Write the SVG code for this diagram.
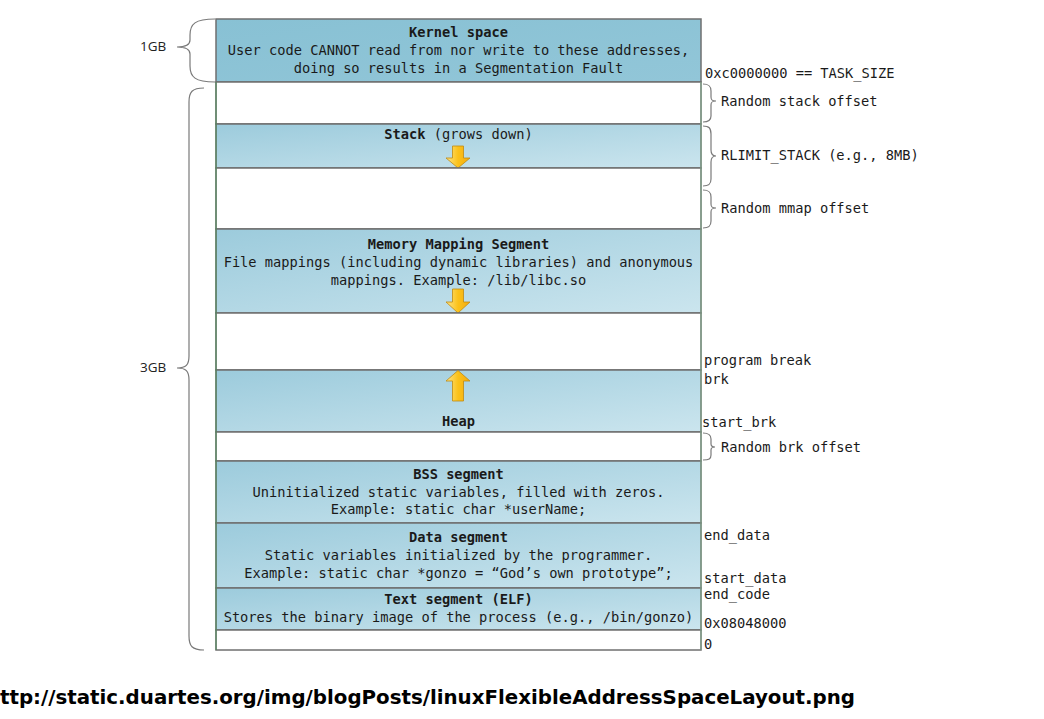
<svg xmlns="http://www.w3.org/2000/svg" width="1044" height="719" viewBox="0 0 1044 719">
  <defs>
    <linearGradient id="seg" x1="0" y1="0" x2="1" y2="1">
      <stop offset="0" stop-color="#9ccbdc"/>
      <stop offset="1" stop-color="#cbe5ee"/>
    </linearGradient>
    <linearGradient id="kern" x1="0" y1="0" x2="1" y2="1">
      <stop offset="0" stop-color="#88c1d4"/>
      <stop offset="1" stop-color="#92c6d8"/>
    </linearGradient>
    <linearGradient id="arrowFill" x1="0" y1="0" x2="1" y2="0">
      <stop offset="0" stop-color="#fde58a"/>
      <stop offset="0.5" stop-color="#fbc21a"/>
      <stop offset="1" stop-color="#f4ab10"/>
    </linearGradient>
    <style>
      .seg { fill: url(#seg); stroke: #6f6f6f; stroke-width: 1.5; }
      .gap { fill: #ffffff; stroke: #6f6f6f; stroke-width: 1.5; }
      .t { font-family: "DejaVu Sans Mono", "Liberation Mono", monospace; font-size: 13.7px; fill: #1a1a1a; }
      .c { text-anchor: middle; }
      .b { font-weight: bold; }
      .gb { font-family: "Open Sans", "Liberation Sans", sans-serif; font-size: 13.5px; fill: #222; }
      .brace { fill: none; stroke: #7a7a7a; stroke-width: 1.2; }
      .arrow { fill: url(#arrowFill); stroke: #c08a10; stroke-width: 0.8; }
      .url { font-family: "DejaVu Sans", "Liberation Sans", sans-serif; font-weight: bold; font-size: 20px; fill: #000; }
    </style>
  </defs>

  <!-- memory segments, top (high addresses) to bottom -->
  <g id="kernel">
    <rect x="216" y="19" width="485" height="63" fill="url(#kern)" stroke="#6f6f6f" stroke-width="1.5"/>
    <text class="t c b" x="458.5" y="37">Kernel space</text>
    <text class="t c" x="458.5" y="55">User code CANNOT read from nor write to these addresses,</text>
    <text class="t c" x="458.5" y="73">doing so results in a Segmentation Fault</text>
  </g>
  <g id="gap-stack">
    <rect class="gap" x="216" y="82" width="485" height="42"/>
  </g>
  <g id="stack">
    <rect class="seg" x="216" y="124" width="485" height="44"/>
    <text class="t c" x="458.5" y="139"><tspan class="b">Stack</tspan> (grows down)</text>
    <path class="arrow" d="M452.5,146 H463.5 V158 H470 L458,168 L446,158 H452.5 Z"/>
  </g>
  <g id="gap-mmap">
    <rect class="gap" x="216" y="168" width="485" height="61"/>
  </g>
  <g id="mmap">
    <rect class="seg" x="216" y="229" width="485" height="84"/>
    <text class="t c b" x="458.5" y="249">Memory Mapping Segment</text>
    <text class="t c" x="458.5" y="267">File mappings (including dynamic libraries) and anonymous</text>
    <text class="t c" x="458.5" y="285">mappings. Example: /lib/libc.so</text>
    <path class="arrow" d="M452.5,289 H463.5 V302 H470 L458,313 L446,302 H452.5 Z"/>
  </g>
  <g id="gap-heap">
    <rect class="gap" x="216" y="313" width="485" height="57"/>
  </g>
  <g id="heap">
    <rect class="seg" x="216" y="370" width="485" height="62"/>
    <text class="t c b" x="458.5" y="426">Heap</text>
    <path class="arrow" d="M452.5,401 H463.5 V381 H470 L458,370.5 L446,381 H452.5 Z"/>
  </g>
  <g id="gap-brk">
    <rect class="gap" x="216" y="432" width="485" height="29"/>
  </g>
  <g id="bss">
    <rect class="seg" x="216" y="461" width="485" height="62"/>
    <text class="t c b" x="458.5" y="479">BSS segment</text>
    <text class="t c" x="458.5" y="497">Uninitialized static variables, filled with zeros.</text>
    <text class="t c" x="458.5" y="514">Example: static char *userName;</text>
  </g>
  <g id="data">
    <rect class="seg" x="216" y="523" width="485" height="65"/>
    <text class="t c b" x="458.5" y="542">Data segment</text>
    <text class="t c" x="458.5" y="560">Static variables initialized by the programmer.</text>
    <text class="t c" x="458.5" y="578">Example: static char *gonzo = “God’s own prototype”;</text>
  </g>
  <g id="text-seg">
    <rect class="seg" x="216" y="588" width="485" height="42"/>
    <text class="t c b" x="458.5" y="604">Text segment (ELF)</text>
    <text class="t c" x="458.5" y="622">Stores the binary image of the process (e.g., /bin/gonzo)</text>
  </g>
  <g id="gap-zero">
    <rect class="gap" x="216" y="630" width="485" height="20"/>
  </g>
  <!-- thin outer edges of the user region -->
  <g id="outline">
    <line x1="216" y1="82" x2="216" y2="650" stroke="#4f8a5a" stroke-width="1"/>
    <line x1="701" y1="82" x2="701" y2="650" stroke="#7fa88a" stroke-width="1"/>
  </g>

  <!-- braces -->
  <g id="connectors">
    <path class="brace" d="M215,19 C195,19 190,24 190,35 V40 C190,45 186,47 177,47 C186,47 190,49 190,54 V66 C190,77 195,82 215,82"/>
    <path class="brace" d="M204,88 C192,88 189,92 189,102 V356 C189,365 186,368 177,368 C186,368 189,371 189,380 V636 C189,646 192,650 204,650"/>
    <path class="brace" d="M703,84 C709,84 711,86 711,91 V97 C711,100 712,101 716,101 C712,101 711,102 711,105 V116 C711,120 709,122 703,122"/>
    <path class="brace" d="M703,126 C709,126 711,128 711,134 V150 C711,154 712,156 716,156 C712,156 711,158 711,162 V179 C711,184 709,186 703,186"/>
    <path class="brace" d="M703,190 C709,190 711,192 711,197 V204 C711,207 712,208 716,208 C712,208 711,209 711,212 V221 C711,226 709,228 703,228"/>
    <path class="brace" d="M703,433 C709,433 711,435 711,439 V444 C711,446 712,447 715,447 C712,447 711,448 711,450 V455 C711,459 709,460 703,460"/>
  </g>

  <!-- size labels -->
  <g id="size-labels">
    <text class="gb" x="140" y="51">1GB</text>
    <text class="gb" x="140" y="372">3GB</text>
  </g>

  <!-- address annotations -->
  <g id="addr-labels">
    <text class="t" x="705" y="78">0xc0000000 == TASK_SIZE</text>
    <text class="t" x="721" y="106">Random stack offset</text>
    <text class="t" x="721" y="160">RLIMIT_STACK (e.g., 8MB)</text>
    <text class="t" x="721" y="213">Random mmap offset</text>
    <text class="t" x="704" y="365">program break</text>
    <text class="t" x="704" y="384">brk</text>
    <text class="t" x="702" y="427">start_brk</text>
    <text class="t" x="721" y="452">Random brk offset</text>
    <text class="t" x="704" y="540">end_data</text>
    <text class="t" x="704" y="583">start_data</text>
    <text class="t" x="704" y="599">end_code</text>
    <text class="t" x="704" y="628">0x08048000</text>
    <text class="t" x="704" y="649">0</text>
  </g>

  <text class="url" x="0" y="704" textLength="855" lengthAdjust="spacingAndGlyphs">ttp://static.duartes.org/img/blogPosts/linuxFlexibleAddressSpaceLayout.png</text>
</svg>
